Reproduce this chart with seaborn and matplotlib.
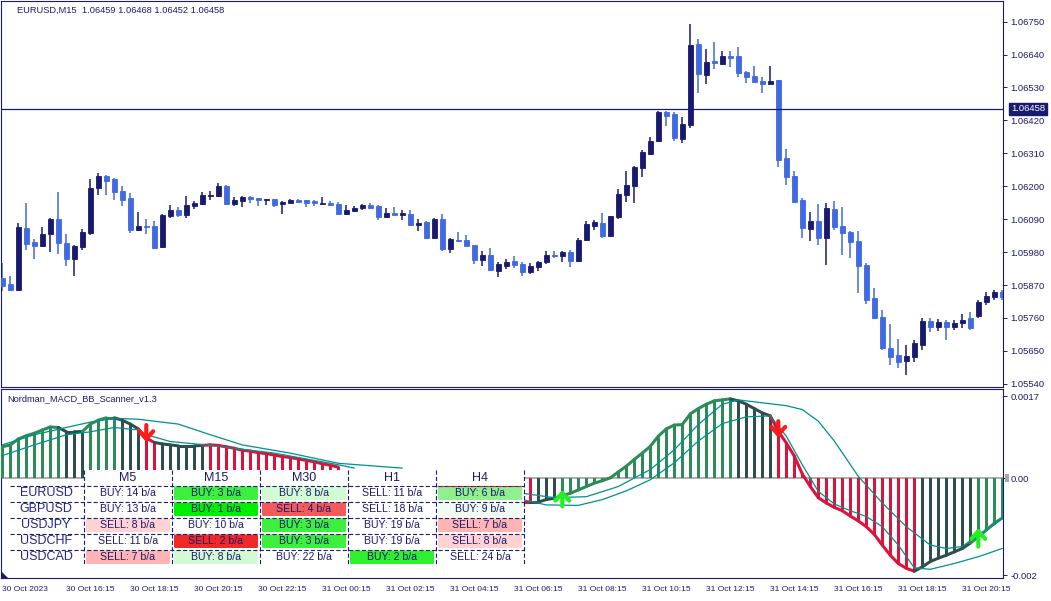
import numpy as np
import matplotlib
matplotlib.use('Agg')
import matplotlib.pyplot as plt
import seaborn as sns
from matplotlib.patches import Rectangle, FancyBboxPatch, Polygon
from matplotlib.transforms import blended_transform_factory

# ---- candles EURUSD M15, bar 0 = 30 Oct 14:15 ----
opens = np.array([
    1.05894, 1.05874, 1.05853, 1.06060, 1.06014, 1.06000, 1.06040, 1.06091, 1.06010, 1.05957,
    1.05997, 1.06044, 1.06194, 1.06234, 1.06224, 1.06184, 1.06161, 1.06054, 1.06067, 1.06067,
    1.05997, 1.06101, 1.06121, 1.06104, 1.06134, 1.06141, 1.06169, 1.06167, 1.06201, 1.06141,
    1.06151, 1.06164, 1.06161, 1.06154, 1.06157, 1.06141, 1.06144, 1.06154, 1.06154, 1.06151,
    1.06142, 1.06144, 1.06141, 1.06107, 1.06117, 1.06127, 1.06137, 1.06134, 1.06097, 1.06111,
    1.06104, 1.06107, 1.06071, 1.06081, 1.06027, 1.06091, 1.05990, 1.06020, 1.06020, 1.06004,
    1.05954, 1.05970, 1.05917, 1.05934, 1.05950, 1.05940, 1.05914, 1.05930, 1.05947, 1.05970,
    1.05967, 1.05980, 1.05950, 1.06020, 1.06067, 1.06077, 1.06034, 1.06097, 1.06171, 1.06201,
    1.06261, 1.06308, 1.06351, 1.06448, 1.06441, 1.06358, 1.06404, 1.06675, 1.06572, 1.06618,
    1.06608, 1.06635, 1.06635, 1.06582, 1.06568, 1.06551, 1.06541, 1.06555, 1.06294, 1.06234,
    1.06154, 1.06057, 1.06084, 1.06027, 1.06124, 1.06067, 1.06047, 1.06017, 1.05937, 1.05826,
    1.05763, 1.05660, 1.05636, 1.05616, 1.05630, 1.05670, 1.05750, 1.05730, 1.05747, 1.05730,
    1.05743, 1.05760, 1.05767, 1.05813, 1.05830, 1.05847])
highs = np.array([
    1.05944, 1.05900, 1.06077, 1.06144, 1.06024, 1.06064, 1.06094, 1.06181, 1.06040, 1.06003,
    1.06057, 1.06224, 1.06244, 1.06238, 1.06228, 1.06201, 1.06177, 1.06114, 1.06091, 1.06084,
    1.06107, 1.06137, 1.06131, 1.06167, 1.06151, 1.06181, 1.06184, 1.06211, 1.06204, 1.06164,
    1.06167, 1.06167, 1.06161, 1.06158, 1.06158, 1.06151, 1.06157, 1.06157, 1.06155, 1.06154,
    1.06164, 1.06151, 1.06147, 1.06137, 1.06134, 1.06141, 1.06144, 1.06137, 1.06127, 1.06131,
    1.06121, 1.06121, 1.06091, 1.06084, 1.06094, 1.06107, 1.06027, 1.06047, 1.06037, 1.06005,
    1.05984, 1.05994, 1.05947, 1.05957, 1.05967, 1.05947, 1.05944, 1.05950, 1.05984, 1.05984,
    1.05984, 1.05987, 1.06027, 1.06084, 1.06087, 1.06111, 1.06101, 1.06191, 1.06251, 1.06266,
    1.06321, 1.06364, 1.06451, 1.06450, 1.06448, 1.06431, 1.06742, 1.06692, 1.06658, 1.06682,
    1.06652, 1.06652, 1.06665, 1.06585, 1.06602, 1.06565, 1.06602, 1.06556, 1.06324, 1.06251,
    1.06161, 1.06114, 1.06141, 1.06144, 1.06151, 1.06131, 1.06050, 1.06050, 1.05944, 1.05860,
    1.05787, 1.05740, 1.05690, 1.05670, 1.05687, 1.05760, 1.05760, 1.05757, 1.05753, 1.05753,
    1.05773, 1.05780, 1.05820, 1.05847, 1.05853, 1.05853])
lows = np.array([
    1.05850, 1.05850, 1.05850, 1.05987, 1.05957, 1.05997, 1.05980, 1.05974, 1.05934, 1.05900,
    1.05987, 1.06037, 1.06171, 1.06171, 1.06154, 1.06134, 1.06044, 1.06050, 1.06040, 1.05990,
    1.05994, 1.06094, 1.06097, 1.06094, 1.06124, 1.06137, 1.06154, 1.06164, 1.06137, 1.06134,
    1.06131, 1.06144, 1.06134, 1.06137, 1.06131, 1.06107, 1.06143, 1.06144, 1.06131, 1.06134,
    1.06141, 1.06134, 1.06105, 1.06105, 1.06114, 1.06121, 1.06124, 1.06087, 1.06095, 1.06103,
    1.06087, 1.06067, 1.06050, 1.06025, 1.06024, 1.05984, 1.05977, 1.06014, 1.05997, 1.05940,
    1.05934, 1.05917, 1.05897, 1.05924, 1.05927, 1.05900, 1.05907, 1.05917, 1.05940, 1.05960,
    1.05947, 1.05930, 1.05947, 1.06017, 1.06054, 1.06027, 1.06033, 1.06091, 1.06147, 1.06144,
    1.06231, 1.06305, 1.06347, 1.06401, 1.06351, 1.06344, 1.06394, 1.06511, 1.06541, 1.06592,
    1.06605, 1.06598, 1.06565, 1.06545, 1.06545, 1.06511, 1.06540, 1.06264, 1.06204, 1.06144,
    1.06027, 1.06017, 1.06004, 1.05937, 1.06054, 1.05970, 1.05960, 1.05843, 1.05807, 1.05757,
    1.05653, 1.05603, 1.05593, 1.05570, 1.05613, 1.05653, 1.05713, 1.05717, 1.05687, 1.05720,
    1.05727, 1.05720, 1.05760, 1.05803, 1.05820, 1.05820])
closes = np.array([
    1.05867, 1.05853, 1.06064, 1.06007, 1.06000, 1.06040, 1.06091, 1.06010, 1.05957, 1.06000,
    1.06047, 1.06194, 1.06234, 1.06217, 1.06181, 1.06154, 1.06054, 1.06067, 1.06064, 1.05994,
    1.06104, 1.06121, 1.06104, 1.06137, 1.06144, 1.06171, 1.06172, 1.06201, 1.06141, 1.06154,
    1.06164, 1.06157, 1.06154, 1.06157, 1.06137, 1.06147, 1.06154, 1.06147, 1.06144, 1.06144,
    1.06145, 1.06137, 1.06107, 1.06121, 1.06127, 1.06137, 1.06127, 1.06097, 1.06111, 1.06104,
    1.06111, 1.06071, 1.06077, 1.06027, 1.06091, 1.05990, 1.06024, 1.06017, 1.06000, 1.05954,
    1.05970, 1.05920, 1.05940, 1.05947, 1.05937, 1.05914, 1.05934, 1.05947, 1.05970, 1.05967,
    1.05980, 1.05950, 1.06020, 1.06074, 1.06081, 1.06034, 1.06101, 1.06174, 1.06204, 1.06264,
    1.06314, 1.06351, 1.06448, 1.06435, 1.06361, 1.06408, 1.06672, 1.06575, 1.06615, 1.06612,
    1.06635, 1.06628, 1.06578, 1.06565, 1.06548, 1.06541, 1.06551, 1.06288, 1.06231, 1.06146,
    1.06060, 1.06084, 1.06027, 1.06127, 1.06064, 1.06044, 1.06014, 1.05934, 1.05820, 1.05760,
    1.05660, 1.05630, 1.05613, 1.05633, 1.05677, 1.05750, 1.05730, 1.05747, 1.05730, 1.05743,
    1.05753, 1.05727, 1.05813, 1.05833, 1.05847, 1.05830])
last_price = 1.06458
price_ticks = [1.05540, 1.05650, 1.05760, 1.05870, 1.05980, 1.06090,
               1.06200, 1.06310, 1.06420, 1.06530, 1.06640, 1.06750]

# ---- MACD histogram (left part visible before the table, right part after) ----
hist_left_start = 0
hist_left = [0.000653, 0.000688, 0.000812, 0.00088, 0.00093, 0.000998, 0.00106, 0.00105,
             0.000963, 0.000963, 0.000965, 0.00112, 0.0012, 0.00125, 0.00125, 0.0012,
             0.00112, 0.00102, 0.00083, 0.00074, 0.00071, 0.00069, 0.00067, 0.00067,
             0.00067, 0.00068, 0.00069, 0.00068, 0.00065, 0.00062, 0.00058, 0.00056,
             0.00053, 0.00051, 0.00048, 0.00045, 0.00043, 0.0004, 0.00037, 0.00034,
             0.0003, 0.00027, 0.00023]
hist_left_cols = 'GGGGGGGG' + 'DDD' + 'GGGG' + 'DDD' + 'RR' + 'DDDDDD' + 'R' * 17
hist_right_start = 65
hist_right = [-0.00049, -0.00049, -0.00049, -0.00044, -0.00041, -0.00036, -0.00031, -0.00024,
              -0.00017, -0.0001, -0.00005, 0.00001, 0.00013, 0.00025, 0.00039, 0.00052,
              0.00066, 0.00087, 0.00102, 0.0011, 0.00111, 0.00133, 0.00144, 0.00153,
              0.0016, 0.00162, 0.00164, 0.0016, 0.00153, 0.00144, 0.00135, 0.00129,
              0.00097, 0.00073, 0.00046, 0.00009, -0.00017, -0.0004, -0.00051, -0.0006,
              -0.00067, -0.00078, -0.00088, -0.001, -0.00116, -0.00138, -0.00159, -0.00176,
              -0.00186, -0.00192, -0.00183, -0.00172, -0.00165, -0.00159, -0.00152, -0.00145,
              -0.00134, -0.00121, -0.00107, -0.00093, -0.00082]
hist_right_cols = 'RR' + 'DDD' + 'G' * 22 + 'DDDDD' + 'R' * 18 + 'D' * 7 + 'GGGG'

# ---- Bollinger bands on MACD (read at sample bars) ----
bb_up_l_k = [0, 4, 8, 11, 14, 17, 22, 26, 30, 36, 42, 50]
bb_up_l = [0.00069, 0.0009, 0.00105, 0.00116, 0.00124, 0.00122, 0.00112, 0.0009,
           0.00069, 0.00052, 0.00031, 0.00021]
bb_lo_l_k = [0, 4, 8, 11, 14, 17, 18, 21, 26, 29, 34, 38, 42, 44]
bb_lo_l = [0.00047, 0.00069, 0.0009, 0.00096, 0.00105, 0.001, 0.0009, 0.00076, 0.00068,
           0.00062, 0.00052, 0.0004, 0.00028, 0.00021]
bb_up_r_k = [65, 69, 73, 77, 81, 84, 87, 90, 92, 95, 98, 100, 102, 104, 107, 110, 113,
             116, 118, 120, 122, 124, 125]
bb_up_r = [-0.00031, -0.0004, -0.00038, -0.00017, 0.00018, 0.00059, 0.00111, 0.00153,
           0.00162, 0.00156, 0.0015, 0.00142, 0.00118, 0.00077, 0.00004, -0.00051, -0.001,
           -0.00138, -0.00145, -0.00141, -0.00117, -0.00096, -0.00081]
bb_lo_r_k = [65, 68, 72, 75, 78, 81, 84, 87, 90, 93, 96, 98, 100, 102, 104, 106, 108, 110,
             112, 114, 116, 119, 122, 125]
bb_lo_r = [-0.00044, -0.00055, -0.00056, -0.00044, -0.00026, -0.00003, 0.00032, 0.00077,
           0.00113, 0.00127, 0.00129, 0.00087, 0.00028, -0.00027, -0.00053, -0.00067,
           -0.00079, -0.001, -0.00138, -0.00185, -0.00188, -0.00176, -0.00162, -0.00145]

sell_k = [18, 97]
sell_from = [0.00110, 0.00118]
sell_to = [0.00075, 0.00084]
buy_k = [70, 122]
buy_from = [-0.00058, -0.00141]
buy_to = [-0.00024, -0.00103]

time_k = [0, 8, 16, 24, 32, 40, 48, 56, 64, 72, 80, 88, 96, 104, 112, 120]
time_labels = ['30 Oct 2023', '30 Oct 16:15', '30 Oct 18:15', '30 Oct 20:15', '30 Oct 22:15',
               '31 Oct 00:15', '31 Oct 02:15', '31 Oct 04:15', '31 Oct 06:15', '31 Oct 08:15',
               '31 Oct 10:15', '31 Oct 12:15', '31 Oct 14:15', '31 Oct 16:15', '31 Oct 18:15',
               '31 Oct 20:15']

# ---- scanner table ----
timeframes = ['M5', 'M15', 'M30', 'H1', 'H4']
symbols = ['EURUSD', 'GBPUSD', 'USDJPY', 'USDCHF', 'USDCAD']
signals = [['BUY', 'BUY', 'BUY', 'SELL', 'BUY'],
           ['BUY', 'BUY', 'SELL', 'SELL', 'BUY'],
           ['SELL', 'BUY', 'BUY', 'BUY', 'SELL'],
           ['SELL', 'SELL', 'BUY', 'BUY', 'SELL'],
           ['SELL', 'BUY', 'BUY', 'BUY', 'SELL']]
bars_ago = [[14, 3, 8, 11, 6],
            [13, 1, 4, 18, 9],
            [8, 10, 3, 19, 7],
            [11, 2, 3, 19, 8],
            [7, 8, 22, 2, 24]]
cell_colors = [['white', '#3df03d', '#d3fbd3', 'white', '#90f090'],
               ['white', '#00ee00', '#f55a5a', 'white', '#f0fcf0'],
               ['#ffd3d3', 'white', '#3df03d', 'white', '#ffb4b4'],
               ['white', '#f02828', '#3df03d', 'white', '#ffd3d3'],
               ['#ffb4b4', '#d3fbd3', 'white', '#2ef02e', 'white']]

# ---- style ----
W, H = 1051, 601
sns.set_style('white')
plt.rcParams['font.family'] = ['Liberation Sans', 'DejaVu Sans']
plt.rcParams['lines.scale_dashes'] = False
NAVY = '#1a1a6e'
BULL = '#191970'
BEAR = '#4169e1'
TEAL = '#009090'
PAL = {'G': '#2e8b57', 'D': '#2f4f4f', 'R': '#dc143c'}

fig = plt.figure(figsize=(W / 100, H / 100), dpi=100)
fig.patch.set_facecolor('white')


def px_box(x0, y0, x1, y1):
    return [x0 / W, 1 - y1 / H, (x1 - x0) / W, (y1 - y0) / H]


XLIM = ((1 - 2.3) / 8.0, (1003 - 2.3) / 8.0)

# ---- main price chart ----
ax = fig.add_axes(px_box(1, 1, 1003, 387))
x = np.arange(len(opens))
cols = np.where(closes >= opens, BULL, BEAR)
ax.vlines(x, lows, highs, colors=cols, lw=1.1, zorder=2)
ax.bar(x, closes - opens, bottom=opens, width=0.56, color=cols, edgecolor=cols,
       linewidth=0.6, zorder=3)
ax.axhline(last_price, color=NAVY, lw=0.9, zorder=4)
ax.set_xlim(*XLIM)
ax.set_ylim(1.055294, 1.068187)
ax.set_xticks([])
ax.yaxis.tick_right()
ax.set_yticks(price_ticks)
ax.set_yticklabels(['%.5f' % p for p in price_ticks])
ax.tick_params(axis='y', direction='out', length=3, width=0.7, color=NAVY,
               labelcolor=NAVY, labelsize=6.8, pad=2.5)
for s in ax.spines.values():
    s.set_color(NAVY)
    s.set_linewidth(0.8)
ax.text(16 / 1002, 1 - 9 / 386, 'EURUSD,M15  1.06459 1.06468 1.06452 1.06458',
        transform=ax.transAxes, fontsize=6.7, color=NAVY, va='center', ha='left')
tr = blended_transform_factory(ax.transAxes, ax.transData)
ax.text(1 + 8 / 1002, last_price, '%.5f' % last_price, transform=tr, fontsize=6.8,
        color='white', va='center', ha='left', zorder=6,
        bbox=dict(boxstyle='square,pad=0.2', fc=NAVY, ec=NAVY))

# ---- indicator panel ----
ax2 = fig.add_axes(px_box(1, 389, 1003, 578))
ax2.axhline(0, color='#a8a8a8', lw=1.3, zorder=1)


def draw_hist(start, vals, codes):
    ks = np.arange(start, start + len(vals))
    c = [PAL[ch] for ch in codes]
    ax2.bar(ks, vals, width=0.38, color=c, linewidth=0, zorder=3)
    for i in range(1, len(vals)):
        ax2.plot(ks[i - 1:i + 1], vals[i - 1:i + 1], color=c[i], lw=2.2, zorder=4,
                 solid_capstyle='round')


draw_hist(hist_left_start, hist_left, hist_left_cols)
draw_hist(hist_right_start, hist_right, hist_right_cols)

for kk, vv in [(bb_up_l_k, bb_up_l), (bb_lo_l_k, bb_lo_l),
               (bb_up_r_k, bb_up_r), (bb_lo_r_k, bb_lo_r)]:
    sns.lineplot(x=kk, y=vv, ax=ax2, color=TEAL, lw=0.9, zorder=5)

for k, a, b in zip(sell_k, sell_from, sell_to):
    ax2.annotate('', xy=(k, b), xytext=(k, a), zorder=7,
                 arrowprops=dict(arrowstyle='->,head_length=0.55,head_width=0.5',
                                 color='#ff1a1a', lw=3, shrinkA=0, shrinkB=0))
for k, a, b in zip(buy_k, buy_from, buy_to):
    ax2.annotate('', xy=(k, b), xytext=(k, a), zorder=7,
                 arrowprops=dict(arrowstyle='->,head_length=0.55,head_width=0.5',
                                 color='#22f022', lw=3, shrinkA=0, shrinkB=0))

ax2.set_xlim(*XLIM)
ax2.set_ylim(-0.00206, 0.001845)
ax2.set_ylabel('')
ax2.yaxis.tick_right()
ax2.set_yticks([0.0017, 0.0, -0.002])
ax2.set_yticklabels(['0.0017', '0.00', '-0.002'])
ax2.tick_params(axis='y', direction='out', length=3, width=0.7, color=NAVY,
                labelcolor=NAVY, labelsize=6.8, pad=2.5)
ax2.set_xticks(time_k)
ax2.set_xticklabels(time_labels)
ax2.tick_params(axis='x', direction='out', length=4, width=0.7, color=NAVY,
                labelcolor=NAVY, labelsize=6, pad=1.5)
for lab in ax2.get_xticklabels():
    lab.set_ha('left')
for s in ax2.spines.values():
    s.set_color(NAVY)
    s.set_linewidth(0.8)
ax2.text(6 / 1002, 1 - 10 / 189, 'Nordman_MACD_BB_Scanner_v1.3', transform=ax2.transAxes,
         fontsize=6.7, color=NAVY, va='center', ha='left')

# ---- overlay in pixel space: scanner table ----
tab = fig.add_axes([0, 0, 1, 1], zorder=10)
tab.set_xlim(0, W)
tab.set_ylim(H, 0)
tab.axis('off')
tab.patch.set_alpha(0)

col_x = [84, 172, 260, 348, 436, 524]
row_y = [485, 501, 517, 533, 549, 565]
tab.add_patch(Rectangle((84, 470), 440, 95, fc='white', ec='none'))
tab.add_patch(Rectangle((10, 485), 74, 80, fc='white', ec='none'))
for j, tf in enumerate(timeframes):
    tab.text((col_x[j] + col_x[j + 1]) / 2, 478, tf, ha='center', va='center',
             fontsize=9, color=NAVY)
for i, sym in enumerate(symbols):
    yc = (row_y[i] + row_y[i + 1]) / 2 + 0.5
    tab.text(46, yc, sym, ha='center', va='center', fontsize=9, color='#24248c')
    for j in range(5):
        c = cell_colors[i][j]
        if c != 'white':
            tab.add_patch(FancyBboxPatch((col_x[j] + 2, row_y[i] + 1.5),
                                         col_x[j + 1] - col_x[j] - 4, 13.5,
                                         boxstyle='round,pad=0,rounding_size=1.5',
                                         fc=c, ec='none'))
        tab.text((col_x[j] + col_x[j + 1]) / 2, yc,
                 '%s: %d b/a' % (signals[i][j], bars_ago[i][j]),
                 ha='center', va='center', fontsize=7.6, color=NAVY)
tab.hlines(np.array(row_y[:-1]) + 0.5, 10, 524, colors=NAVY, lw=0.8,
           linestyles=(0, (3, 1.6)))
tab.vlines(col_x, 470, 565, colors=NAVY, lw=0.8, linestyles=(0, (3, 1.6)))
# red dashes over the H4 header edge, as in the terminal
tab.hlines([485.5], 437, 524, colors='#dc143c', lw=0.8, linestyles=(2.3, (3, 1.6)))

# small gray tag at zero level and corner marker
tab.add_patch(Rectangle((1005, 474), 4, 8, fc='#a8a8a8', ec='none'))
tab.add_patch(Polygon([(2, 578), (2, 572), (8, 578)], closed=True, fc=NAVY, ec='none'))

fig.savefig('out.png', dpi=100, facecolor='white')
